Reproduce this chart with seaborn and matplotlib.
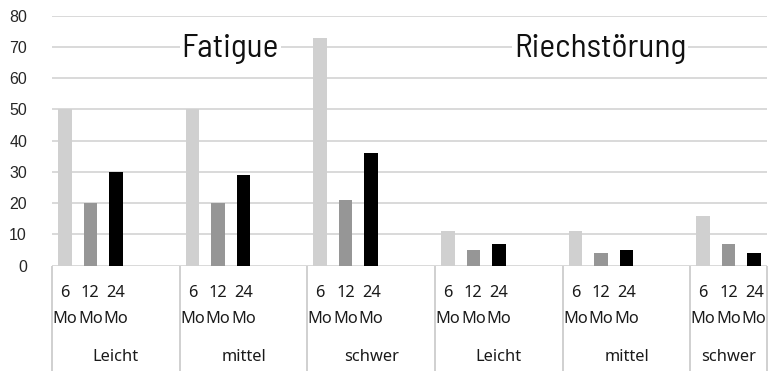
import matplotlib
matplotlib.use("Agg")
import matplotlib.pyplot as plt
import pandas as pd
import seaborn as sns

# Severity groups along the category axis (two symptoms, three severities each)
groups = ["Leicht", "mittel", "schwer", "Leicht", "mittel", "schwer"]
months = ["6 Mo", "12 Mo", "24 Mo"]
panel_titles = ["Fatigue", "Riechstörung"]

# Percent of patients per severity group at 6 / 12 / 24 months
fatigue_values = [50, 20, 30, 50, 20, 29, 73, 21, 36]
riech_values = [11, 5, 7, 11, 4, 5, 16, 7, 4]

y_ticks = [0, 10, 20, 30, 40, 50, 60, 70, 80]
bar_colors = ["#D0D0D0", "#969696", "#000000"]

# each group occupies five slots on the axis (three bars, two spacer slots)
slots_per_group = 5
values = fatigue_values + riech_values
rows = []
for g, grp in enumerate(groups):
    for m, mo in enumerate(months):
        rows.append({"pos": g * slots_per_group + m, "month": mo,
                     "group": grp, "value": values[g * 3 + m]})
df = pd.DataFrame(rows)

sns.set_theme(style="white")
label_family = ["Noto Sans", "DejaVu Sans"]
plt.rcParams["font.family"] = label_family

fig = plt.figure(figsize=(7.79, 3.71), dpi=100)
ax = fig.add_axes([52 / 779, (371 - 265.7) / 371, 715 / 779, 250 / 371])

sns.barplot(data=df, x="pos", y="value", hue="month", hue_order=months,
            palette=bar_colors, native_scale=True, dodge=False, width=0.53,
            saturation=1, errorbar=None, legend=False, linewidth=0, ax=ax)

n_slots = (len(groups) - 1) * slots_per_group + len(months)
ax.set_xlim(-0.5, n_slots - 0.5)
ax.set_ylim(0, 80)
ax.set_yticks(y_ticks)
ax.set_yticklabels([str(t) for t in y_ticks], family=["Liberation Sans", "DejaVu Sans"],
                   fontsize=11.5, color="#262626")
ax.tick_params(axis="y", length=0, pad=18)
ax.set_xticks([])
ax.set_xlabel("")
ax.set_ylabel("")
for s in ax.spines.values():
    s.set_visible(False)
ax.yaxis.grid(True, color="#D9D9D9", linewidth=1.4)
ax.set_axisbelow(True)

# two-level category axis drawn below the plot
xt = ax.get_xaxis_transform()
lab_kw = dict(transform=xt, ha="center", va="center", fontsize=11.8,
              color="#1a1a1a", family=label_family)
for g, grp in enumerate(groups):
    start = g * slots_per_group
    for m, mo in enumerate(months):
        num, unit = mo.split(" ")
        ax.text(start + m, -0.108, num, **lab_kw)
        ax.text(start + m, -0.213, unit, **lab_kw)
    end = min(start + slots_per_group, n_slots)
    ax.text((start + end - 1) / 2, -0.366, grp, **lab_kw)

dividers = [g * slots_per_group - 0.5 for g in range(len(groups))] + [n_slots - 0.5]
for x in dividers:
    ax.plot([x, x], [0, -0.45], transform=xt, color="#D0D0D0", linewidth=1.4,
            clip_on=False, solid_capstyle="butt")

# symptom titles above each half of the chart
title_kw = dict(ha="center", va="baseline", fontsize=24, color="#111111",
                family=["Barlow Semi Condensed", "Roboto Condensed",
                        "IBM Plex Sans Condensed", "Liberation Sans"],
                bbox=dict(facecolor="white", edgecolor="none", pad=1.5))
ax.text(6.48, 66.9, panel_titles[0], **title_kw)
ax.text(20.97, 66.9, panel_titles[1], **title_kw)

fig.savefig("out.png", dpi=100, facecolor="white")
